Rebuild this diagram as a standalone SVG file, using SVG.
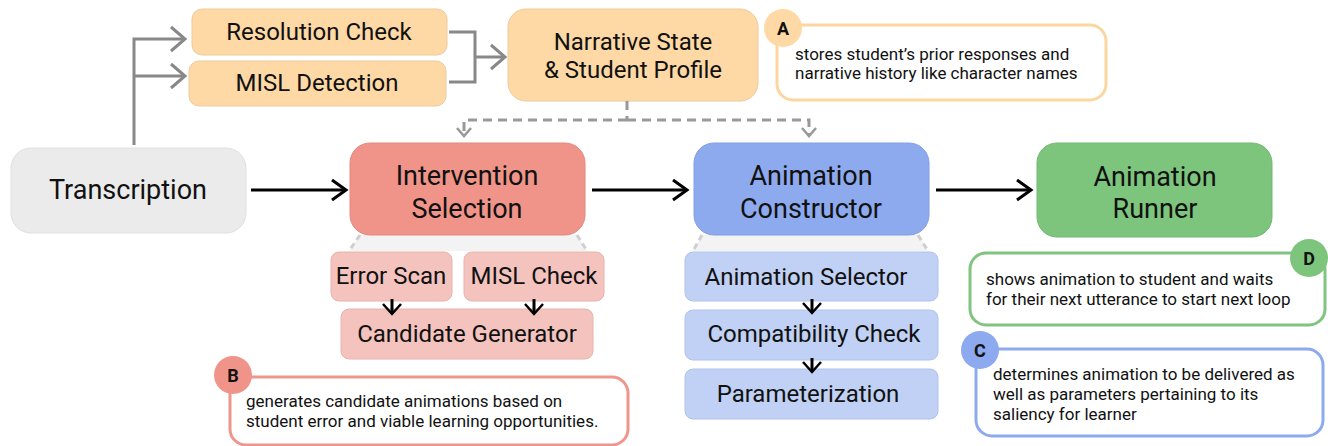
<svg xmlns="http://www.w3.org/2000/svg" width="1328" height="446" viewBox="0 0 1328 446">
<defs>
<style>
text{font-family:Roboto,"Liberation Sans",sans-serif;fill:#111;}
.main{font-size:27px;text-anchor:middle;}
.sub{font-size:24px;text-anchor:middle;}
.note{font-size:17px;}
.badge{font-size:18px;font-weight:bold;text-anchor:middle;}
.ln{fill:none;stroke-linecap:butt;}
.blk{stroke:#000;stroke-width:3;}
.gry{stroke:#888;stroke-width:3;}
.dsh{stroke:#999;stroke-width:3;stroke-dasharray:9 6;}
.fan{fill:#f3f3f3;stroke:none;}
.fanl{stroke:#cfcfcf;stroke-width:3;stroke-dasharray:6 4;fill:none;}
</style>
<marker id="ab" markerUnits="userSpaceOnUse" markerWidth="20" markerHeight="26" refX="16" refY="13" orient="auto" viewBox="0 0 20 26"><path d="M2,3 L16,13 L2,23" fill="none" stroke="#000" stroke-width="3"/></marker>
<marker id="ag" markerUnits="userSpaceOnUse" markerWidth="20" markerHeight="30" refX="16" refY="15" orient="auto" viewBox="0 0 20 30"><path d="M2,3 L16,15 L2,27" fill="none" stroke="#888" stroke-width="3"/></marker>
<marker id="ad" markerUnits="userSpaceOnUse" markerWidth="14" markerHeight="18" refX="10" refY="9" orient="auto" viewBox="0 0 14 18"><path d="M2,2 L10,9 L2,16" fill="none" stroke="#999" stroke-width="2.5"/></marker>
<marker id="as" markerUnits="userSpaceOnUse" markerWidth="14" markerHeight="22" refX="11" refY="11" orient="auto" viewBox="0 0 14 22"><path d="M1,2 L11,11 L1,20" fill="none" stroke="#000" stroke-width="2.5"/></marker>
</defs>
<rect width="1328" height="446" fill="#fff"/>

<g id="fans">
<polygon class="fan" points="360,235 577,235 587,251 349,251"/>
<line class="fanl" x1="360" y1="235" x2="349" y2="251"/>
<line class="fanl" x1="577" y1="235" x2="587" y2="251"/>
<polygon class="fan" points="702,235 918,235 928,251 693,251"/>
<line class="fanl" x1="702" y1="235" x2="693" y2="251"/>
<line class="fanl" x1="918" y1="235" x2="928" y2="251"/>
</g>

<g id="transcription">
<rect x="11" y="148" width="235" height="85" rx="20" fill="#ebebeb" stroke="#e0e0e0" stroke-width="1"/>
<text class="main" x="128" y="199">Transcription</text>
</g>
<g id="resolution-check">
<rect x="192" y="9" width="255" height="46" rx="10" fill="#fed9a6" stroke="#eccb9c" stroke-width="1"/>
<text class="sub" x="319" y="40">Resolution Check</text>
</g>
<g id="misl-detection">
<rect x="189" y="61" width="257" height="45" rx="10" fill="#fed9a6" stroke="#eccb9c" stroke-width="1"/>
<text class="sub" x="317" y="91">MISL Detection</text>
</g>
<g id="narrative-state">
<rect x="508" y="9" width="250" height="92" rx="18" fill="#fed9a6" stroke="#eccb9c" stroke-width="1"/>
<text class="sub" x="633" y="50">Narrative State</text>
<text class="sub" x="633" y="78">&amp; Student Profile</text>
</g>
<g id="intervention-selection">
<rect x="350" y="143" width="235" height="92" rx="20" fill="#f0948a" stroke="#e08880" stroke-width="1"/>
<text class="main" x="467" y="185">Intervention</text>
<text class="main" x="467" y="218">Selection</text>
</g>
<g id="animation-constructor">
<rect x="694" y="143" width="235" height="92" rx="20" fill="#8eaaee" stroke="#829fe2" stroke-width="1"/>
<text class="main" x="811" y="185">Animation</text>
<text class="main" x="811" y="218">Constructor</text>
</g>
<g id="animation-runner">
<rect x="1037" y="143" width="235" height="94" rx="20" fill="#7dc57d" stroke="#72b872" stroke-width="1"/>
<text class="main" x="1155" y="186">Animation</text>
<text class="main" x="1155" y="218">Runner</text>
</g>
<g id="error-scan">
<rect x="331" y="252" width="121" height="49" rx="8" fill="#f4c3be" stroke="#e6b4af" stroke-width="1"/>
<text class="sub" x="391" y="284">Error Scan</text>
</g>
<g id="misl-check">
<rect x="464" y="252" width="140" height="49" rx="8" fill="#f4c3be" stroke="#e6b4af" stroke-width="1"/>
<text class="sub" x="534" y="284">MISL Check</text>
</g>
<g id="candidate-generator">
<rect x="341" y="309" width="252" height="50" rx="8" fill="#f4c3be" stroke="#e6b4af" stroke-width="1"/>
<text class="sub" x="467" y="342">Candidate Generator</text>
</g>
<g id="animation-selector">
<rect x="685" y="252" width="253" height="49" rx="8" fill="#c0d1f5" stroke="#b2c3e8" stroke-width="1"/>
<text class="sub" x="806" y="285">Animation Selector</text>
</g>
<g id="compatibility-check">
<rect x="685" y="310" width="253" height="50" rx="8" fill="#c0d1f5" stroke="#b2c3e8" stroke-width="1"/>
<text class="sub" x="814" y="342">Compatibility Check</text>
</g>
<g id="parameterization">
<rect x="685" y="369" width="253" height="50" rx="8" fill="#c0d1f5" stroke="#b2c3e8" stroke-width="1"/>
<text class="sub" x="808" y="402">Parameterization</text>
</g>

<g id="connectors">
<path class="ln gry" d="M134,145 V39 H185" marker-end="url(#ag)"/>
<path class="ln gry" d="M134,76 H185" marker-end="url(#ag)"/>
<path class="ln gry" d="M449,32 H475 V82 H449"/>
<path class="ln gry" d="M475,57 H505" marker-end="url(#ag)"/>
<path class="ln dsh" d="M627,101 V120"/>
<path class="ln dsh" d="M627,120 H464 V136" marker-end="url(#ad)"/>
<path class="ln dsh" d="M627,120 H809 V136" marker-end="url(#ad)"/>
<path class="ln blk" d="M251,190 H346" marker-end="url(#ab)"/>
<path class="ln blk" d="M592,190 H687" marker-end="url(#ab)"/>
<path class="ln blk" d="M936,190 H1031" marker-end="url(#ab)"/>
<path class="ln blk" d="M392,299 V314" stroke-width="2.5" marker-end="url(#as)"/>
<path class="ln blk" d="M534,299 V314" stroke-width="2.5" marker-end="url(#as)"/>
<path class="ln blk" d="M812,299 V313" stroke-width="2.5" marker-end="url(#as)"/>
<path class="ln blk" d="M812,358 V372" stroke-width="2.5" marker-end="url(#as)"/>
</g>

<g id="note-a">
<rect x="777" y="25" width="329" height="75" rx="16" fill="#fff" stroke="#fbd6a0" stroke-width="3"/>
<circle cx="783" cy="28" r="19" fill="#fed9a6"/>
<text class="badge" x="783" y="35">A</text>
<text class="note" x="795" y="60">stores student’s prior responses and</text>
<text class="note" x="795" y="79">narrative history like character names</text>
</g>
<g id="note-b">
<rect x="230" y="377" width="398" height="68" rx="16" fill="#fff" stroke="#ee968d" stroke-width="3"/>
<circle cx="233" cy="375" r="19" fill="#f0948a"/>
<text class="badge" x="233" y="382">B</text>
<text class="note" x="246" y="407">generates candidate animations based on</text>
<text class="note" x="246" y="427">student error and viable learning opportunities.</text>
</g>
<g id="note-d">
<rect x="970" y="253" width="355" height="72" rx="16" fill="#fff" stroke="#80c480" stroke-width="3"/>
<circle cx="1309" cy="258" r="19" fill="#7dc57d"/>
<text class="badge" x="1309" y="265">D</text>
<text class="note" x="986" y="285">shows animation to student and waits</text>
<text class="note" x="986" y="305">for their next utterance to start next loop</text>
</g>
<g id="note-c">
<rect x="976" y="349" width="347" height="87" rx="16" fill="#fff" stroke="#8eaaee" stroke-width="3"/>
<circle cx="980" cy="350" r="19" fill="#8eaaee"/>
<text class="badge" x="980" y="357">C</text>
<text class="note" x="993" y="380">determines animation to be delivered as</text>
<text class="note" x="993" y="400">well as parameters pertaining to its</text>
<text class="note" x="993" y="420">saliency for learner</text>
</g>
</svg>
